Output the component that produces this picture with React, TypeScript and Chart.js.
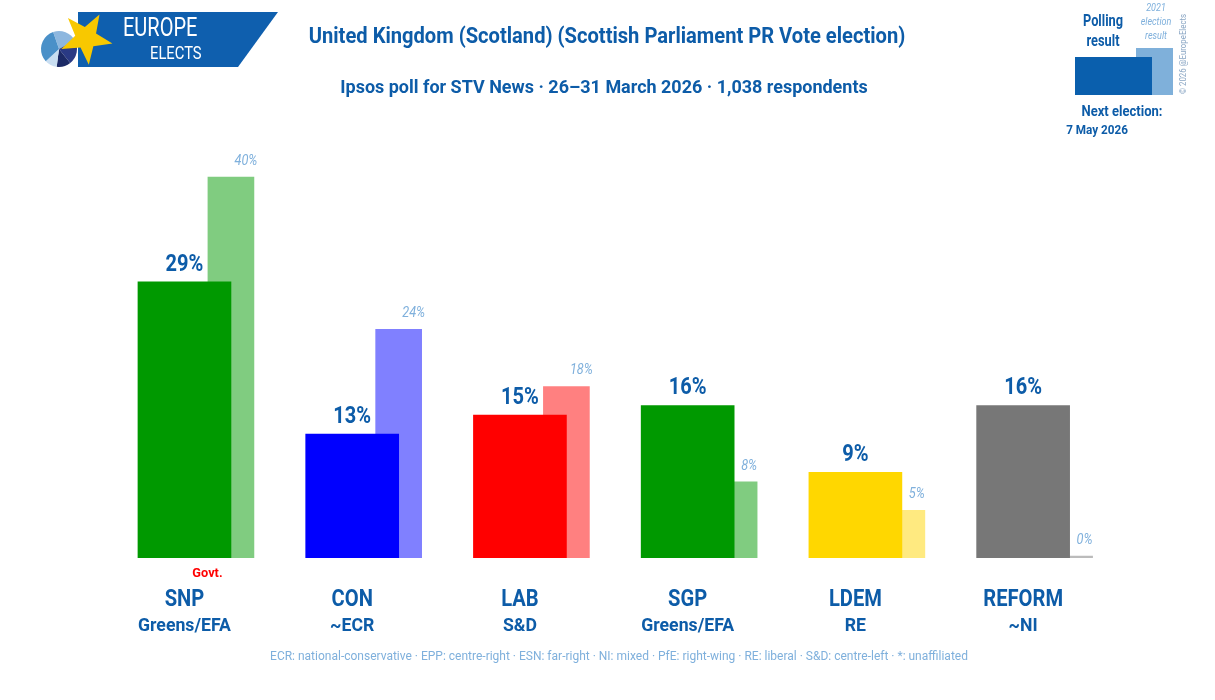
import React, { useEffect, useRef } from "react";
import { Chart, registerables } from "chart.js";

Chart.register(...registerables);

const parties = ["SNP", "CON", "LAB", "SGP", "LDEM", "REFORM"];
const groups = ["Greens/EFA", "~ECR", "S&D", "Greens/EFA", "RE", "~NI"];
const pollValues = [29, 13, 15, 16, 9, 16];
const previousValues = [40, 24, 18, 8, 5, 0];
const pollColors = ["#009900", "#0000ff", "#ff0000", "#009900", "#ffd700", "#777777"];
const previousColors = ["#80cc80", "#8080ff", "#ff8080", "#80cc80", "#ffea80", "#bbbbbb"];
const govtIndex = [0];

const TITLE = "United Kingdom (Scotland) (Scottish Parliament PR Vote election)";
const SUBTITLE = "Ipsos poll for STV News · 26–31 March 2026 · 1,038 respondents";
const FOOTER =
  "ECR: national-conservative · EPP: centre-right · ESN: far-right · NI: mixed · PfE: right-wing · RE: liberal · S&D: centre-left · *: unaffiliated";

const FONT = 'Roboto, "Noto Sans", sans-serif';
const DARK = "#0d5ca8";
const LIGHT = "#7fb0dc";
const PREV_SHIFT = 0.277;

// Draws text narrowed horizontally by factor sx (condensed look).
function text(
  ctx: CanvasRenderingContext2D,
  s: string,
  x: number,
  y: number,
  font: string,
  color: string,
  sx: number,
  align: CanvasTextAlign = "center"
) {
  ctx.save();
  ctx.font = font;
  ctx.fillStyle = color;
  ctx.textAlign = align;
  ctx.textBaseline = "middle";
  ctx.translate(x, y);
  ctx.scale(sx, 1);
  ctx.fillText(s, 0, 0);
  ctx.restore();
}

function drawStar(ctx: CanvasRenderingContext2D, cx: number, cy: number, ro: number, ri: number, rot: number) {
  ctx.beginPath();
  for (let i = 0; i < 10; i++) {
    const r = i % 2 === 0 ? ro : ri;
    const a = rot + (i * Math.PI) / 5;
    const px = cx + r * Math.cos(a);
    const py = cy + r * Math.sin(a);
    if (i === 0) ctx.moveTo(px, py);
    else ctx.lineTo(px, py);
  }
  ctx.closePath();
  ctx.fill();
}

const decorPlugin = {
  id: "decor",
  afterDraw(chart: any) {
    const ctx: CanvasRenderingContext2D = chart.ctx;
    const xs = chart.scales.x;
    const bottom = chart.chartArea.bottom;
    ctx.save();

    // value labels
    const pollMeta = chart.getDatasetMeta(0);
    const prevMeta = chart.getDatasetMeta(1);
    pollMeta.data.forEach((el: any, i: number) => {
      text(ctx, `${pollValues[i]}%`, el.x, el.y - 17, `bold 23px ${FONT}`, DARK, 0.87);
    });
    prevMeta.data.forEach((el: any, i: number) => {
      text(ctx, `${previousValues[i]}%`, el.x + 15, Math.min(el.y, bottom - 2) - 16, `italic 15px ${FONT}`, LIGHT, 0.85);
    });

    // category labels
    parties.forEach((p, i) => {
      const x = xs.getPixelForValue(i);
      text(ctx, p, x, 600, `bold 24px ${FONT}`, DARK, 0.84);
      text(ctx, groups[i], x, 626, `bold 19px ${FONT}`, DARK, 0.93);
      if (govtIndex.includes(i)) {
        text(ctx, "Govt.", x + 23, 574, `bold 13px ${FONT}`, "#ff0000", 0.98);
      }
    });

    // titles
    text(ctx, TITLE, 607, 37, `bold 22px ${FONT}`, DARK, 0.915);
    text(ctx, SUBTITLE, 604, 88, `bold 19px ${FONT}`, DARK, 0.946);
    text(ctx, FOOTER, 619, 657, `12px ${FONT}`, LIGHT, 1.0);

    // logo
    ctx.fillStyle = "#0f5fae";
    ctx.beginPath();
    ctx.moveTo(78, 12);
    ctx.lineTo(278, 12);
    ctx.lineTo(238, 67);
    ctx.lineTo(78, 67);
    ctx.closePath();
    ctx.fill();
    const pcx = 59, pcy = 49, pr = 18;
    const slices: [number, number, string][] = [
      [-1.9, -0.5, "#8db7df"],
      [-0.5, 0.9, "#2a3a84"],
      [0.9, 1.7, "#1c2a66"],
      [1.7, 2.4, "#c9def1"],
      [2.4, 4.38, "#4a90c8"],
    ];
    slices.forEach(([a0, a1, c]) => {
      ctx.fillStyle = c;
      ctx.beginPath();
      ctx.moveTo(pcx, pcy);
      ctx.arc(pcx, pcy, pr, a0, a1);
      ctx.closePath();
      ctx.fill();
    });
    ctx.fillStyle = "#f8c800";
    drawStar(ctx, 86, 38, 27, 11, -1.047);
    text(ctx, "EUROPE", 123, 30, `25px ${FONT}`, "#ffffff", 0.8, "left");
    text(ctx, "ELECTS", 150, 54, `18px ${FONT}`, "#ffffff", 0.82, "left");

    // legend box
    ctx.fillStyle = "#7fb0da";
    ctx.fillRect(1136, 48, 37, 47);
    ctx.fillStyle = "#0a5fad";
    ctx.fillRect(1075, 57, 77, 38);
    text(ctx, "Polling", 1103, 22, `bold 16px ${FONT}`, DARK, 0.8);
    text(ctx, "result", 1103, 42, `bold 16px ${FONT}`, DARK, 0.8);
    text(ctx, "2021", 1156, 8, `italic 10px ${FONT}`, LIGHT, 0.9);
    text(ctx, "election", 1156, 22, `italic 10px ${FONT}`, LIGHT, 0.9);
    text(ctx, "result", 1156, 36, `italic 10px ${FONT}`, LIGHT, 0.9);
    text(ctx, "Next election:", 1122, 112, `bold 14px ${FONT}`, DARK, 0.93);
    text(ctx, "7 May 2026", 1097, 131, `bold 13px ${FONT}`, DARK, 0.9);

    ctx.save();
    ctx.translate(1184, 54);
    ctx.rotate(-Math.PI / 2);
    text(ctx, "© 2026 @EuropeElects", 0, 0, `9px ${FONT}`, "#8aa6c4", 0.87);
    ctx.restore();

    ctx.restore();
  },
};

export default function App() {
  const ref = useRef<HTMLCanvasElement | null>(null);

  useEffect(() => {
    if (!ref.current) return;
    const chart = new Chart(ref.current, {
      type: "bar",
      data: {
        datasets: [
          {
            label: "Polling result",
            data: pollValues.map((v, i) => ({ x: i, y: v })),
            backgroundColor: pollColors,
            barThickness: 93,
            order: 1,
          },
          {
            label: "2021 election result",
            data: previousValues.map((v, i) => ({ x: i + PREV_SHIFT, y: v })),
            backgroundColor: previousColors,
            barThickness: 46,
            minBarLength: 2,
            order: 2,
          },
        ],
      },
      options: {
        animation: false,
        responsive: false,
        grouped: false,
        layout: { padding: { left: 100.6, right: 108, top: 139, bottom: 142 } },
        scales: {
          x: { type: "linear", min: -0.5, max: 5.5, offset: false, display: false },
          y: { type: "linear", min: 0, max: 44, display: false },
        },
        plugins: { legend: { display: false }, tooltip: { enabled: false } },
      } as any,
      plugins: [decorPlugin],
    });
    return () => chart.destroy();
  }, []);

  return (
    <div style={{ position: "fixed", left: 0, top: 0, width: 1215, height: 700, background: "#ffffff" }}>
      <canvas ref={ref} width={1215} height={700} />
    </div>
  );
}
